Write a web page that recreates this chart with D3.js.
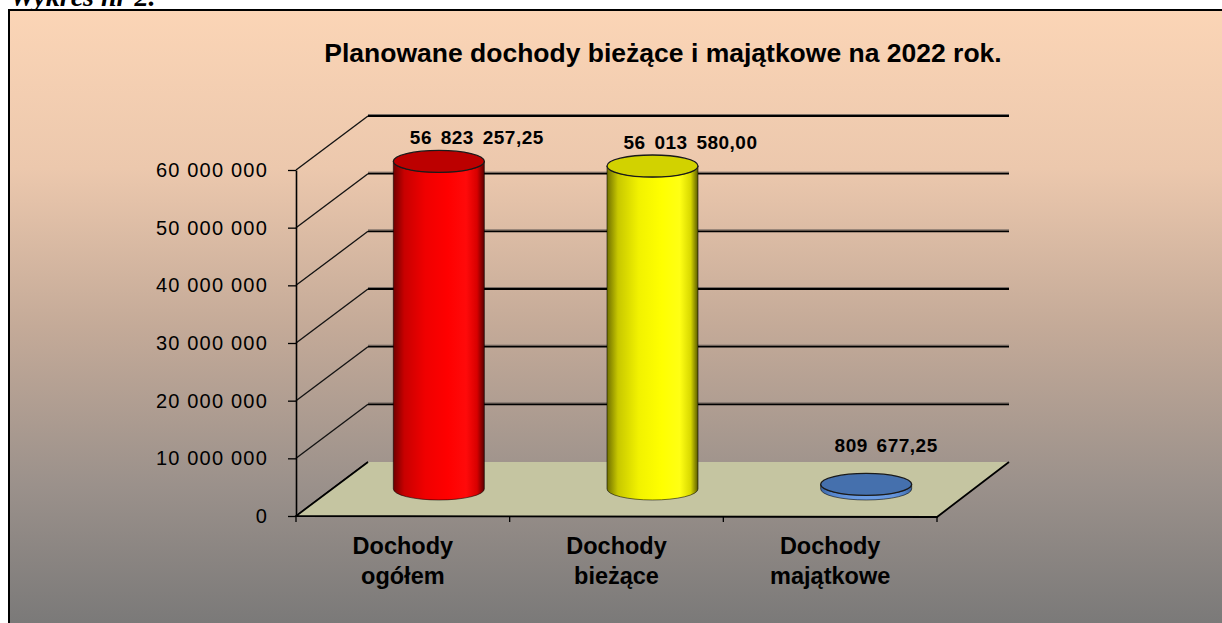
<!DOCTYPE html>
<html>
<head>
<meta charset="utf-8">
<script src="https://cdn.jsdelivr.net/npm/d3@7"></script>
<style>
  html, body { margin: 0; padding: 0; background: #ffffff; }
  svg { display: block; }
  text { font-family: "Liberation Sans", Arial, sans-serif; fill: #000; }
</style>
</head>
<body>
<svg id="chart" width="1222" height="623"></svg>
<script>
// ---- data ----
const chartTitle = "Planowane dochody bieżące i majątkowe na 2022 rok.";
const captionText = "Wykres nr 2.";
const categories = ["Dochody ogółem", "Dochody bieżące", "Dochody majątkowe"];
const categoryLines = [["Dochody", "ogółem"], ["Dochody", "bieżące"], ["Dochody", "majątkowe"]];
const values = [56823257.25, 56013580.00, 809677.25];
const yTickValues = [0, 10000000, 20000000, 30000000, 40000000, 50000000, 60000000];
const yMax = 60000000;

// ---- styles / layout ----
const W = 1222, H = 623;
const plot = { left: 296, right: 937, bottom: 516, top: 170 };
const depth = { dx: 72, dy: -54 };
const barStyles = [
  { top: "#bc0000", stops: ["#700000", "#c80000", "#f00000", "#ff0000", "#ff0a0a", "#d80000", "#5a0000"] },
  { top: "#d2d200", stops: ["#707000", "#c8c800", "#f2f200", "#ffff00", "#ffff14", "#d8d800", "#5a5a00"] },
  { top: "#4570ad", stops: ["#3a64a4", "#5585cc", "#6a9ae0", "#6c9ce2", "#6595dc", "#5080c4", "#3a62a0"] }
];

const plFmt = d3.formatLocale({ decimal: ",", thousands: " ", grouping: [3], currency: ["", ""] });
const fmtVal = plFmt.format(",.2f");
const fmtTick = plFmt.format(",.0f");

const svg = d3.select("#chart");
const defs = svg.append("defs");

// background gradient
const bg = defs.append("linearGradient").attr("id", "bg")
  .attr("x1", 0).attr("y1", 0).attr("x2", 0).attr("y2", 1);
[[0, "#fbd5b6"], [0.25, "#ecc8ad"], [0.5, "#c4aa98"], [0.75, "#9b918b"], [1, "#767676"]]
  .forEach(([o, c]) => bg.append("stop").attr("offset", o).attr("stop-color", c));

barStyles.forEach((s, i) => {
  const g = defs.append("linearGradient").attr("id", "cyl" + i)
    .attr("x1", 0).attr("y1", 0).attr("x2", 1).attr("y2", 0);
  const offs = [0, 0.12, 0.35, 0.6, 0.8, 0.92, 1];
  s.stops.forEach((c, k) => g.append("stop").attr("offset", offs[k]).attr("stop-color", c));
});

// caption above chart
svg.append("text").attr("x", 10).attr("y", 6)
  .style("font-family", "'Liberation Serif', 'Times New Roman', serif")
  .style("font-style", "italic").style("font-weight", "bold").style("font-size", "28px")
  .text(captionText);

// chart area + border
svg.append("rect").attr("x", 9).attr("y", 10).attr("width", W + 10).attr("height", H + 10)
  .attr("fill", "url(#bg)").attr("stroke", "#000").attr("stroke-width", 2);

// title
svg.append("text").attr("x", 663).attr("y", 62).attr("text-anchor", "middle")
  .style("font-weight", "bold").style("font-size", "26.5px")
  .text(chartTitle);

// scales
const y = d3.scaleLinear().domain([0, yMax]).range([plot.bottom, plot.top]);
const x = d3.scaleBand().domain(categories).range([plot.left, plot.right]).padding(0);

// side wall diagonals
svg.append("g").selectAll("line").data(yTickValues).join("line")
  .attr("x1", plot.left).attr("y1", d => y(d))
  .attr("x2", plot.left + depth.dx).attr("y2", d => y(d) + depth.dy)
  .attr("stroke", "#111").attr("stroke-width", 1.3);

// back wall gridlines (shadow + line)
const grid = svg.append("g");
const backVals = yTickValues.filter(d => d > 0);
grid.selectAll("line.sh").data(backVals).join("line").attr("class", "sh")
  .attr("x1", plot.left + depth.dx).attr("x2", plot.right + depth.dx)
  .attr("y1", d => y(d) + depth.dy - 1.5).attr("y2", d => y(d) + depth.dy - 1.5)
  .attr("stroke", "#7a6e66").attr("stroke-width", 1);
grid.selectAll("line.gl").data(backVals).join("line").attr("class", "gl")
  .attr("x1", plot.left + depth.dx).attr("x2", plot.right + depth.dx)
  .attr("y1", d => y(d) + depth.dy).attr("y2", d => y(d) + depth.dy)
  .attr("stroke", "#000").attr("stroke-width", 1.8);

// floor
const y0 = y(0);
svg.append("path")
  .attr("d", `M${plot.left},${y0} L${plot.right},${y0 + 1} L${plot.right + depth.dx},${y0 + depth.dy} L${plot.left + depth.dx},${y0 + depth.dy} Z`)
  .attr("fill", "#c5c5a1").attr("stroke", "none");
svg.append("path")
  .attr("d", `M${plot.left + depth.dx},${y0 + depth.dy} L${plot.left},${y0} L${plot.right},${y0 + 1} L${plot.right + depth.dx},${y0 + depth.dy}`)
  .attr("fill", "none").attr("stroke", "#000").attr("stroke-width", 1.8);

// category ticks
svg.append("g").selectAll("line").data(d3.range(categories.length + 1)).join("line")
  .attr("x1", i => plot.left + i * x.bandwidth()).attr("x2", i => plot.left + i * x.bandwidth())
  .attr("y1", y0).attr("y2", y0 + 6).attr("stroke", "#000").attr("stroke-width", 1.3);

// y axis
const yAxis = d3.axisLeft(y).tickValues(yTickValues).tickFormat(fmtTick)
  .tickSize(8).tickSizeOuter(0).tickPadding(20);
const ya = svg.append("g").attr("transform", `translate(${plot.left},0)`).call(yAxis);
ya.select(".domain").attr("stroke", "#000").attr("stroke-width", 1.6);
ya.selectAll(".tick line").attr("stroke", "#000").attr("stroke-width", 1.3);
ya.selectAll(".tick text").style("font-size", "20px").style("letter-spacing", "1.2px")
  .style("font-family", "'Liberation Sans', Arial, sans-serif")
  .attr("fill", "#000");

// cylinders
const rx = x.bandwidth() * 0.213;
const ry = 11;
const bars = svg.append("g");
categories.forEach((c, i) => {
  const cx = x(c) + x.bandwidth() / 2 + depth.dx / 2;
  const topY = y(values[i]) + depth.dy / 2;
  const botY = y(0) + depth.dy / 2;
  bars.append("path")
    .attr("d", `M${cx - rx},${topY} L${cx - rx},${botY} A${rx},${ry} 0 0 0 ${cx + rx},${botY} L${cx + rx},${topY} A${rx},${ry} 0 0 1 ${cx - rx},${topY} Z`)
    .attr("fill", `url(#cyl${i})`).attr("stroke", "rgba(0,0,0,0.55)").attr("stroke-width", 1);
  bars.append("ellipse").attr("cx", cx).attr("cy", topY).attr("rx", rx).attr("ry", ry)
    .attr("fill", barStyles[i].top).attr("stroke", "#1a1a1a").attr("stroke-width", 1.3);

  // value label
  const floorBack = y(0) + depth.dy;
  const natural = topY - ry - 6;
  const clamped = natural > floorBack - 10;
  const ly = clamped ? floorBack - 10 : natural;
  const lx = cx + (clamped ? 20 : 38);
  svg.append("text").attr("x", lx).attr("y", ly).attr("text-anchor", "middle")
    .style("font-weight", "bold").style("font-size", "19px")
    .style("word-spacing", "3px").style("letter-spacing", "0.5px")
    .text(fmtVal(values[i]));
});

// category labels
const cl = svg.append("g");
categories.forEach((c, i) => {
  const t = cl.append("text").attr("x", x(c) + x.bandwidth() / 2).attr("y", 554)
    .attr("text-anchor", "middle").style("font-weight", "bold").style("font-size", "23.5px");
  categoryLines[i].forEach((ln, k) => {
    t.append("tspan").attr("x", x(c) + x.bandwidth() / 2).attr("dy", k === 0 ? 0 : 30).text(ln);
  });
});
</script>
</body>
</html>
